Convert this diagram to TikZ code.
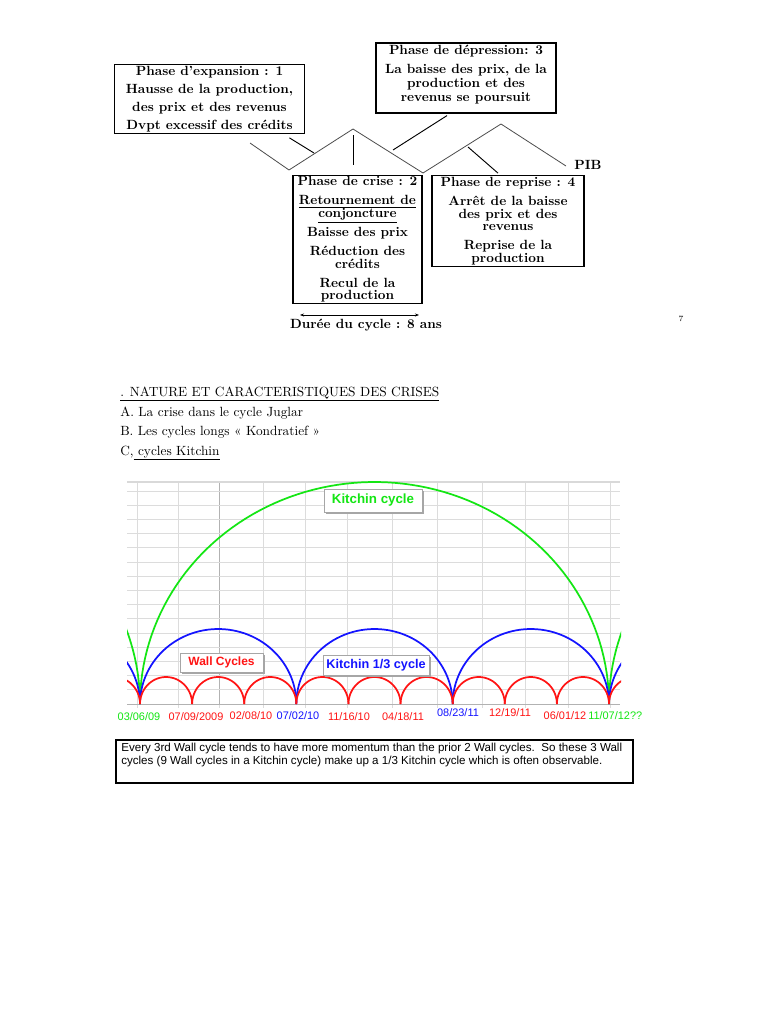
\documentclass[tikz,border=0pt]{standalone}
\usepackage{fontspec}
\newfontfamily\chartfont{Liberation Sans}
\usetikzlibrary{shadows, arrows.meta}
\definecolor{kgreen}{RGB}{20,230,20}
\definecolor{kred}{RGB}{255,20,20}
\definecolor{kblue}{RGB}{20,20,255}
\definecolor{gridgray}{RGB}{220,220,220}

\begin{document}
\lineskiplimit=-5pt
\begin{tikzpicture}[x=0.75pt, y=-0.75pt, >={Stealth[length=3pt]},
  phasebox/.style={draw, line width=0.9pt, align=center, inner sep=1pt},
  pointer/.style={line width=0.7pt},
  pib/.style={line width=0.6pt, black!70},
  curve/.style={line width=1.3pt},
  labelbox/.style={draw=black!35, fill=white, inner sep=0pt,
    drop shadow={shadow xshift=1.2pt, shadow yshift=-1.2pt, fill=black!35, opacity=1},
    font=\chartfont\bfseries\fontsize{9.5}{10}\selectfont},
  datelabel/.style={font=\chartfont\fontsize{8.2}{9}\selectfont}]
  \useasboundingbox[fill=white] (0,0) rectangle (768,1024);

  % cycle phases
  \node[phasebox, minimum width=143pt, minimum height=51pt,
    font=\fontsize{10}{13.5}\selectfont\bfseries] (expansion) at (209.5,99)
    {Phase d’expansion : 1\\ Hausse de la production,\\ des prix et des revenus\\ Dvpt excessif des crédits};
  \node[phasebox, minimum width=135pt, minimum height=52.5pt,
    font=\fontsize{10}{10.5}\selectfont\bfseries] (depression) at (466,78)
    {Phase de dépression: 3\\[3.75pt] La baisse des prix, de la\\ production et des\\ revenus se poursuit\\[-4pt]\mbox{}};
  \node[phasebox, minimum width=96.8pt, minimum height=93.8pt,
    font=\fontsize{10}{9.5}\selectfont\bfseries] (crise) at (357.5,239.5)
    {Phase de crise : 2\\[4.75pt] \underline{Retournement de}\\ \underline{conjoncture}\\[4.75pt]
     Baisse des prix\\[4.75pt] Réduction des\\ crédits\\[4.75pt] Recul de la\\ production};
  \node[phasebox, minimum width=114pt, minimum height=66pt,
    font=\fontsize{10}{9.5}\selectfont\bfseries] (reprise) at (508,221)
    {Phase de reprise : 4\\[4.75pt] Arrêt de la baisse\\ des prix et des\\ revenus\\[4.75pt]
     Reprise de la\\ production};

  % PIB
  \coordinate (z0) at (250,143);
  \coordinate (z1) at (289,170);
  \coordinate (z2) at (353,129);
  \coordinate (z3) at (423,173);
  \coordinate (z4) at (501,124);
  \coordinate (z5) at (566,166);
  \draw[pib] (z0) -- (z1) -- (z2) -- (z3) -- (z4) -- (z5);
  \node[font=\fontsize{10}{10}\selectfont\bfseries] (pib) at (588,165) {PIB};

  \coordinate (expansiontip) at (314,153);
  \coordinate (crisetip) at (353,135);
  \coordinate (depressiontip) at (393,150);
  \coordinate (reprisetip) at (468,147);
  \draw[pointer] ([shift={(-16,4)}]expansion.south east) -- (expansiontip);
  \draw[pointer] ([shift={(-4.5,-10)}]crise.north) -- (crisetip);
  \draw[pointer] ([shift={(-19,2)}]depression.south) -- (depressiontip);
  \draw[pointer] ([shift={(-10,-2)}]reprise.north) -- (reprisetip);

  \coordinate (dureeleft) at (300,315);
  \coordinate (dureeright) at (419,315);
  \draw[<->, line width=0.6pt] (dureeleft) -- (dureeright);
  \node[font=\fontsize{10}{10}\selectfont\bfseries] (duree) at (366,325) {Durée du cycle : 8 ans};
  \node[font=\fontsize{6}{6}\selectfont] (pagenum) at (681,319) {7};

  % section text
  \node[anchor=base west, inner sep=0pt] (heading) at (120,396)
    {\underline{. NATURE ET CARACTERISTIQUES DES CRISES}};
  \node[anchor=base west, inner sep=0pt] (itemA) at (120,416) {A. La crise dans le cycle Juglar};
  \node[anchor=base west, inner sep=0pt] (itemB) at (120,435.5) {B. Les cycles longs « Kondratief »};
  \node[anchor=base west, inner sep=0pt] (itemC) at (120,455) {C,\underline{ cycles Kitchin}};

  % chart grid
  \foreach \gx in {137,178,219,263,305,347,392,437,482,525,568,610}
    \draw[gridgray, line width=0.6pt] (\gx,482) -- (\gx,708);
  \draw[black!30, line width=0.6pt] (219,482) -- (219,704);
  \foreach \k in {1,...,15}
    \draw[gridgray, line width=0.6pt] (127,704-14.2*\k) -- (620,704-14.2*\k);
  \draw[black!15, line width=1.2pt] (127,482) -- (620,482);
  \draw[black!30, line width=0.6pt] (127,704) -- (620,704);

  % cycles
  \begin{scope}
    \clip (127,476) rectangle (621,704);
    \foreach \k [evaluate=\k as \c using 374.5+469*\k] in {-1,0,1}
      \draw[curve, kgreen] plot[domain=0:180, samples=90] ({\c+234.5*cos(\x)}, {704-222*sin(\x)});
    \foreach \k [evaluate=\k as \c using 218.17+156.33*\k] in {-1,...,3}
      \draw[curve, kblue] plot[domain=0:180, samples=60] ({\c+78.17*cos(\x)}, {704-75*sin(\x)});
    \foreach \k [evaluate=\k as \c using 166.06+52.11*\k] in {-1,...,9}
      \draw[curve, kred] plot[domain=0:180, samples=40] ({\c+26.06*cos(\x)}, {704-27*sin(\x)});
  \end{scope}

  \node[labelbox, text=kgreen, minimum width=73.5pt, minimum height=17.25pt,
    font=\chartfont\bfseries\fontsize{10}{10}\selectfont] (kitchinlabel) at (373,500.5) {Kitchin cycle};
  \node[labelbox, text=kred, minimum width=62.25pt, minimum height=14.25pt,
    font=\chartfont\bfseries\fontsize{9}{9}\selectfont] (walllabel) at (221.5,662.5) {Wall Cycles};
  \node[labelbox, text=kblue, minimum width=79.5pt, minimum height=15pt] (thirdlabel) at (376,665) {Kitchin 1/3 cycle};

  % dates
  \node[datelabel, text=kgreen] (d1) at (139,717) {03/06/09};
  \node[datelabel, text=kred] (d2) at (196,717) {07/09/2009};
  \node[datelabel, text=kred] (d3) at (251,716) {02/08/10};
  \node[datelabel, text=kblue] (d4) at (298,716) {07/02/10};
  \node[datelabel, text=kred] (d5) at (349,717) {11/16/10};
  \node[datelabel, text=kred] (d6) at (403,717) {04/18/11};
  \node[datelabel, text=kblue] (d7) at (458,713) {08/23/11};
  \node[datelabel, text=kred] (d8) at (510,713) {12/19/11};
  \node[datelabel, text=kred] (d9) at (565,716) {06/01/12};
  \node[datelabel, text=kgreen, anchor=west, inner sep=0pt] (d10) at (588,716) {11/07/12??};

  \node[draw, line width=1.1pt, minimum width=387.75pt, minimum height=32.25pt, inner sep=0pt] (notebox) at (374.5,761.5) {};
  \node[anchor=north west, align=left, inner sep=0pt,
    font=\chartfont\fontsize{8.7}{9.75}\selectfont] (note) at (121,743)
    {Every 3rd Wall cycle tends to have more momentum than the prior 2 Wall cycles.\ \ So these 3 Wall\\
     cycles (9 Wall cycles in a Kitchin cycle) make up a 1/3 Kitchin cycle which is often observable.};
\end{tikzpicture}
\end{document}
